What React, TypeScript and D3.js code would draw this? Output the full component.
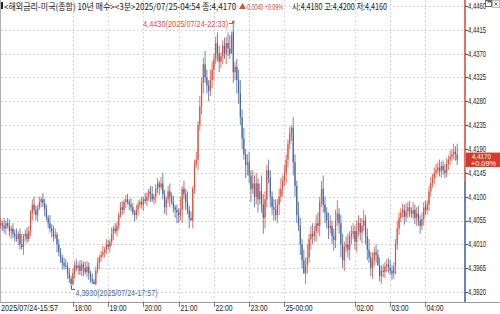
import React, { useLayoutEffect, useRef, useState } from "react";
import * as d3 from "d3";

// ---------- data ----------
const BASE = 4.39; // offsets below are in units of 0.0001 above this base
const UNIT = 0.0001;
const startLabel = "2025/07/24-15:57";
const startMinutes = 15 * 60 + 57;
const barMinutes = 3;
const prevClose = 4.413;
const lastClose = 4.417;

const firstOpenOffset = 145;
const closeOffsets = [
  150, 145, 140, 150, 145, 135, 140, 130, 125, 120, 130, 110, 105, 125, 130, 120, 135, 170, 185, 175,
  165, 180, 190, 195, 188, 175, 160, 150, 140, 135, 125, 128, 110, 95, 85, 75, 70, 68, 55, 45,
  35, 55, 70, 65, 70, 60, 72, 65, 58, 68, 55, 45, 40, 35, 60, 75, 85, 90, 95, 100,
  110, 105, 115, 130, 140, 135, 145, 165, 180, 175, 190, 195, 190, 185, 180, 170, 165, 175, 185, 190,
  185, 195, 192, 200, 210, 205, 195, 200, 215, 225, 218, 225, 205, 180, 195, 210, 200, 190, 180, 175,
  170, 165, 175, 215, 205, 190, 175, 160, 155, 215, 260, 270, 335, 370, 415, 450, 425, 410, 400, 420,
  440, 460, 490, 470, 455, 465, 485, 470, 490, 480, 470, 505, 435, 445, 420, 395, 350, 310, 280, 260,
  265, 240, 215, 225, 200, 225, 195, 210, 185, 160, 195, 250, 235, 200, 180, 175, 165, 185, 200, 215,
  230, 245, 270, 300, 320, 330, 265, 220, 165, 145, 110, 80, 55, 70, 85, 120, 130, 125, 135, 150,
  145, 190, 215, 185, 170, 155, 140, 145, 125, 118, 155, 168, 150, 110, 80, 105, 110, 100, 125, 130,
  135, 115, 135, 150, 132, 145, 155, 125, 100, 85, 65, 80, 95, 90, 70, 50, 60, 58, 68, 72,
  66, 60, 55, 68, 110, 140, 160, 170, 175, 162, 172, 180, 172, 168, 175, 160, 168, 155, 145, 158,
  180, 175, 185, 210, 225, 235, 245, 250, 255, 248, 258, 250, 245, 262, 270, 275, 280, 285, 280, 270,
];
// upper / lower wick lengths beyond the body, same units
const upperWicks = [
  10, 5, 15, 5, 10, 12, 5, 10, 8, 15, 5, 10, 20, 5, 8, 12, 10, 5, 10, 15,
  8, 5, 10, 5, 12, 8, 10, 5, 15, 8, 10, 12, 5, 10, 8, 5, 10, 12, 8, 10,
  5, 10, 8, 12, 5, 10, 8, 5, 12, 10, 8, 5, 10, 5, 8, 10, 5, 8, 12, 5,
  10, 8, 5, 12, 5, 10, 8, 5, 10, 12, 5, 8, 10, 5, 12, 8, 5, 10, 8, 5,
  10, 5, 12, 8, 5, 10, 15, 5, 8, 10, 5, 12, 20, 8, 5, 10, 15, 8, 12, 5,
  10, 8, 25, 5, 15, 10, 20, 8, 12, 5, 10, 15, 8, 20, 10, 12, 25, 15, 10, 20,
  15, 10, 12, 20, 15, 8, 10, 15, 12, 20, 25, 7, 18, 10, 15, 20, 25, 15, 20, 10,
  15, 20, 10, 25, 15, 20, 10, 15, 30, 20, 15, 10, 20, 15, 10, 15, 20, 10, 15, 20,
  10, 15, 10, 8, 12, 5, 20, 15, 10, 25, 15, 10, 20, 15, 25, 10, 15, 20, 10, 15,
  20, 10, 15, 25, 15, 10, 15, 20, 10, 15, 20, 25, 10, 15, 20, 10, 15, 20, 10, 15,
  15, 10, 20, 15, 10, 15, 20, 10, 15, 20, 10, 15, 10, 15, 10, 15, 10, 12, 8, 10,
  12, 15, 10, 8, 10, 15, 10, 8, 12, 10, 15, 10, 12, 8, 15, 10, 12, 15, 10, 12,
  10, 12, 8, 10, 12, 8, 10, 12, 10, 15, 8, 10, 12, 10, 8, 12, 10, 15, 10, 0,
];
const lowerWicks = [
  5, 10, 8, 12, 5, 10, 15, 8, 10, 5, 12, 10, 5, 15, 10, 8, 5, 10, 15, 8,
  10, 12, 5, 10, 8, 12, 5, 10, 8, 12, 10, 5, 15, 8, 10, 12, 8, 5, 10, 8,
  0, 2, 10, 5, 12, 8, 10, 15, 5, 10, 12, 8, 5, 0, 3, 5, 12, 8, 5, 10,
  8, 5, 10, 8, 12, 5, 10, 8, 5, 10, 8, 12, 5, 10, 8, 5, 12, 8, 10, 5,
  8, 12, 5, 10, 8, 15, 5, 10, 12, 8, 15, 5, 10, 12, 15, 8, 20, 5, 10, 15,
  20, 15, 10, 25, 10, 15, 8, 20, 0, 15, 10, 5, 20, 10, 15, 20, 10, 15, 20, 10,
  15, 20, 10, 15, 20, 12, 15, 10, 20, 15, 10, 0, 20, 15, 25, 20, 15, 20, 10, 25,
  20, 15, 25, 10, 20, 15, 25, 10, 15, 30, 20, 15, 10, 20, 15, 20, 10, 15, 20, 10,
  15, 10, 20, 15, 10, 15, 25, 20, 15, 10, 20, 15, 0, 20, 15, 10, 20, 15, 10, 20,
  15, 20, 10, 15, 20, 15, 20, 10, 15, 20, 15, 10, 20, 25, 15, 20, 10, 15, 20, 15,
  10, 15, 20, 10, 15, 20, 10, 15, 20, 10, 15, 20, 10, 15, 0, 10, 15, 10, 12, 10,
  10, 8, 12, 10, 15, 10, 12, 8, 10, 15, 10, 12, 10, 8, 10, 12, 15, 10, 15, 8,
  12, 10, 8, 12, 10, 8, 12, 10, 8, 10, 12, 8, 10, 8, 12, 10, 8, 10, 12, 0,
];
// notable extremes and known opens: [bar, offset]
const wickHighs: [number, number][] = [[132, 530], [259, 300]];
const wickLows: [number, number][] = [[40, 30], [259, 260]];
const knownOpens: [number, number][] = [[132, 512], [259, 280]];

const yTicks = [4.446, 4.4415, 4.437, 4.4325, 4.428, 4.4235, 4.419, 4.4145, 4.41, 4.4055, 4.401, 4.3965, 4.392];
const xTickHours = [18, 19, 20, 21, 22, 23, 24, 26, 27, 28];
const xTickLabels = ["18:00", "19:00", "20:00", "21:00", "22:00", "23:00", "25-00:00", "02:00", "03:00", "04:00"];

const headerMain = "<해외금리-미국(종합) 10년 매수><3분>2025/07/25-04:54 종:4,4170";
const headerChange = "0.0040 +0.09%";
const headerOHL = "시:4,4180 고:4,4200 저:4,4160";
const boxChange = "+0.09%";
const highNote = "4,4430(2025/07/24-22:33)";
const lowNote = "4,3930(2025/07/24-17:57)";

// ---------- helpers ----------
const fmt = (v: number) => v.toFixed(4).replace(".", ",");
const RED = "#d9503f";
const BLUE = "#46679f";
const FONT = "'Liberation Sans', 'Noto Sans CJK KR', sans-serif";
const KFONT = "'Noto Sans CJK KR', 'Liberation Sans', sans-serif";

type FitProps = {
  x: number; y: number; width: number; size: number; fill: string; family?: string;
  children: string; central?: boolean;
};
// text squeezed horizontally to a measured width (the reference uses a narrow bitmap font)
function FitText({ x, y, width, size, fill, family = FONT, children, central }: FitProps) {
  const ref = useRef<SVGTextElement>(null);
  const [sx, setSx] = useState(0.7);
  useLayoutEffect(() => {
    if (ref.current) {
      const w = ref.current.getComputedTextLength();
      if (w > 0) setSx(width / w);
    }
  }, [width, children]);
  return (
    <text ref={ref} transform={`translate(${x},${y}) scale(${sx},1)`} fontSize={size} fill={fill}
      fontFamily={family} dominantBaseline={central ? "central" : undefined}>{children}</text>
  );
}

export default function App() {
  const x = d3.scaleLinear().domain([0, 259]).range([0.6, 457.2]);
  const y = d3.scaleLinear().domain([4.392, 4.446]).range([292, 6]);

  const bars = closeOffsets.map((c, i) => {
    let o = i === 0 ? firstOpenOffset : closeOffsets[i - 1];
    knownOpens.forEach(([b, v]) => { if (b === i) o = v; });
    const hiOff = Math.max(o, c) + upperWicks[i];
    const loOff = Math.min(o, c) - lowerWicks[i];
    let high = BASE + hiOff * UNIT;
    let low = BASE + loOff * UNIT;
    wickHighs.forEach(([b, v]) => { if (b === i) high = BASE + v * UNIT; });
    wickLows.forEach(([b, v]) => { if (b === i) low = BASE + v * UNIT; });
    return { i, open: BASE + o * UNIT, close: BASE + c * UNIT, high, low };
  });

  const axisX = 465;
  const axisBottom = 302;
  const yPrev = y(prevClose);
  const yLast = y(lastClose);

  const xTicks = xTickHours.map((h, k) => ({
    label: xTickLabels[k],
    px: Math.round(x((h * 60 - startMinutes) / barMinutes)) + 0.5,
  }));

  const hi = bars[132];
  const lo = bars[40];

  return (
    <svg width={500} height={314} style={{ position: "absolute", left: 0, top: 0, background: "#fff" }}>
      <rect x={0} y={0} width={500} height={314} fill="#fff" />
      {/* horizontal grid */}
      {yTicks.map((t) => (
        <line key={"hg" + t} x1={1} x2={axisX - 1} y1={Math.round(y(t)) + 0.5} y2={Math.round(y(t)) + 0.5}
          stroke="#d6d6d6" strokeDasharray="2,2" />
      ))}
      {/* vertical grid */}
      {xTicks.map((t) => (
        <line key={"vg" + t.label} x1={t.px} x2={t.px} y1={0} y2={axisBottom} stroke="#d6d6d6" strokeDasharray="2,2" />
      ))}
      {/* left frame */}
      <line x1={0.5} x2={0.5} y1={0} y2={axisBottom} stroke="#b0b0b0" />
      {/* candles */}
      {bars.map((b) => {
        const up = b.close >= b.open;
        const col = up ? RED : BLUE;
        const cx = x(b.i);
        const top = y(Math.max(b.open, b.close));
        const bot = y(Math.min(b.open, b.close));
        return (
          <g key={"c" + b.i}>
            <line x1={cx} x2={cx} y1={y(b.high)} y2={y(b.low)} stroke={col} strokeWidth={0.8} />
            <rect x={cx - 0.6} y={top} width={1.2} height={Math.max(0.8, bot - top)} fill={col} />
          </g>
        );
      })}
      {/* high annotation */}
      <FitText x={143} y={24} width={85} size={9} fill={RED} central>{highNote}</FitText>
      <line x1={229} x2={x(hi.i)} y1={23.5} y2={23.5} stroke={RED} />
      <circle cx={x(hi.i)} cy={y(hi.high)} r={1.3} fill={RED} />
      {/* low annotation */}
      <path d={`M${Math.round(x(lo.i)) + 0.5},${Math.round(y(lo.low)) - 1} V289.5 H75`} fill="none" stroke={BLUE} />
      <FitText x={75.5} y={293.5} width={82} size={9} fill={BLUE} central>{lowNote}</FitText>
      {/* bottom axis */}
      <line x1={0} x2={500} y1={axisBottom + 0.5} y2={axisBottom + 0.5} stroke="#9a9a9a" />
      <FitText x={1} y={311} width={57} size={9.5} fill="#222">{startLabel}</FitText>
      {xTicks.map((t) => (
        <g key={"xt" + t.label}>
          <line x1={t.px} x2={t.px} y1={axisBottom} y2={axisBottom + 5} stroke="#777" />
          <FitText x={t.px + 1} y={311} width={t.label.length > 5 ? 27 : 17} size={9.5} fill="#222">{t.label}</FitText>
        </g>
      ))}
      {/* right axis */}
      <line x1={axisX} x2={axisX} y1={0} y2={yPrev} stroke={RED} strokeWidth={1.6} />
      <line x1={axisX} x2={axisX} y1={yPrev} y2={axisBottom} stroke={BLUE} strokeWidth={1.6} />
      {yTicks.map((t) => (
        <g key={"yt" + t}>
          <line x1={axisX} x2={axisX + 3} y1={Math.round(y(t)) + 0.5} y2={Math.round(y(t)) + 0.5} stroke="#555" />
          <FitText x={468} y={y(t)} width={18} size={8.5} fill="#222" central>{fmt(t)}</FitText>
        </g>
      ))}
      {/* current price box */}
      <rect x={466} y={yLast - 7} width={34} height={14.5} fill="#d63a2d" />
      <FitText x={472} y={yLast - 3} width={19} size={7.5} fill="#fff" central>{fmt(lastClose)}</FitText>
      <FitText x={471} y={yLast + 4} width={25} size={7.5} fill="#fff" central>{boxChange}</FitText>
      {/* header */}
      <rect x={1} y={2} width={2} height={7} fill="#222" />
      <FitText x={4} y={10} width={232} size={9} fill="#222" family={KFONT}>{headerMain}</FitText>
      <path d="M242.5,3 L246,9 L239,9 Z" fill={RED} />
      <FitText x={247} y={10} width={36} size={9} fill={RED}>{headerChange}</FitText>
      <FitText x={292} y={10} width={95} size={9} fill="#222" family={KFONT}>{headerOHL}</FitText>
      {/* window icons */}
      <rect x={485.5} y={0.5} width={6} height={6} fill="#fff" stroke="#666" />
      <rect x={487.5} y={0.5} width={4} height={2} fill="#666" />
      <rect x={492.5} y={0.5} width={7} height={7} fill="#f4f4f4" stroke="#bbb" />
      <path d="M494.5,2.5 L497.5,5.5 M497.5,2.5 L494.5,5.5" stroke="#777" />
    </svg>
  );
}
